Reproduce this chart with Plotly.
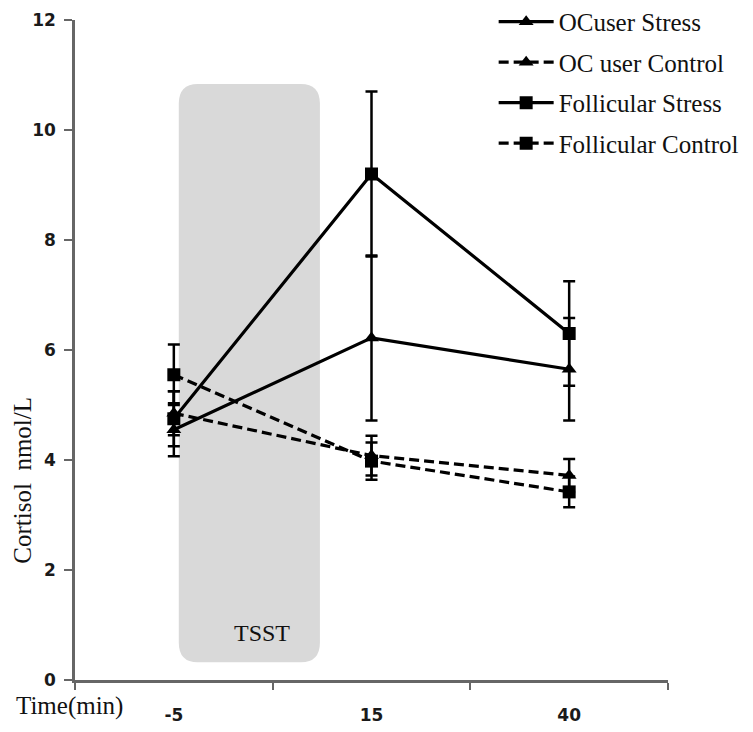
import plotly.graph_objects as go

times = ["-5", "15", "40"]
oc_stress = [4.55, 6.22, 5.65]
oc_stress_err = [0.48, 1.5, 0.93]
oc_control = [4.85, 4.08, 3.72]
oc_control_err = [0.4, 0.36, 0.3]
fol_stress = [4.75, 9.2, 6.3]
fol_stress_err = [0.5, 1.5, 0.95]
fol_control = [5.55, 3.98, 3.42]
fol_control_err = [0.55, 0.34, 0.28]

series = [
    ("OCuser Stress", oc_stress, oc_stress_err, "solid", "triangle-up"),
    ("OC user Control", oc_control, oc_control_err, "10px,5px", "triangle-up"),
    ("Follicular Stress", fol_stress, fol_stress_err, "solid", "square"),
    ("Follicular Control", fol_control, fol_control_err, "10px,5px", "square"),
]

serif = "Liberation Serif, Times New Roman, serif"

fig = go.Figure()
for i, (name, vals, errs, dash, sym) in enumerate(series):
    fig.add_trace(go.Scatter(
        x=times, y=vals, name=name, mode="lines+markers",
        line=dict(color="black", width=3.2, dash=dash),
        marker=dict(symbol=sym, size=13, color="black"),
        error_y=dict(type="data", array=errs, visible=True, color="black",
                     thickness=2.5, width=6),
        legendgroup=f"g{i}",
    ))

# rounded TSST box (paper coords)
x0, x1, y0, y1 = 0.175, 0.413, 0.027, 0.903
rx, ry = 0.032, 0.03
path = (f"M {x0+rx},{y0} L {x1-rx},{y0} Q {x1},{y0} {x1},{y0+ry} "
        f"L {x1},{y1-ry} Q {x1},{y1} {x1-rx},{y1} L {x0+rx},{y1} "
        f"Q {x0},{y1} {x0},{y1-ry} L {x0},{y0+ry} Q {x0},{y0} {x0+rx},{y0} Z")
fig.add_shape(type="path", path=path, xref="paper", yref="paper",
              fillcolor="#d9d9d9", line=dict(width=0), layer="below")

fig.add_annotation(text="TSST", x=0.315, y=0.071, xref="paper", yref="paper",
                   xanchor="center", yanchor="middle", showarrow=False,
                   font=dict(family=serif, size=24, color="#111"))
fig.add_annotation(text="Cortisol  nmol/L", x=-0.09, y=0.303, xref="paper", yref="paper",
                   xanchor="center", yanchor="middle", showarrow=False, textangle=-90,
                   font=dict(family=serif, size=25, color="#111"))
fig.add_annotation(text="Time(min)", x=-0.009, y=-0.039, xref="paper", yref="paper",
                   xanchor="center", yanchor="middle", showarrow=False,
                   font=dict(family=serif, size=25, color="#111"))

fig.update_xaxes(type="category", tickson="boundaries", range=[-0.5, 2.5],
                 showline=True, linecolor="#666666", linewidth=2.5,
                 ticks="outside", ticklen=7, tickwidth=2, tickcolor="#666666",
                 showgrid=False, zeroline=False, ticklabelstandoff=18,
                 tickfont=dict(family="DejaVu Sans", size=17, color="#1a1a1a", weight="bold"))
fig.update_yaxes(range=[0, 12], tickvals=[0, 2, 4, 6, 8, 10, 12], showline=True,
                 linecolor="#666666", linewidth=2.5, ticks="outside", ticklen=8,
                 tickwidth=2, tickcolor="#666666", showgrid=False, zeroline=False,
                 ticklabelstandoff=5,
                 tickfont=dict(family="DejaVu Sans", size=17, color="#1a1a1a", weight="bold"))

fig.update_layout(
    width=753, height=732,
    margin=dict(l=67, r=93, t=12, b=60, autoexpand=False),
    paper_bgcolor="white", plot_bgcolor="white",
    font=dict(family=serif),
    showlegend=True,
    legend=dict(x=0.706, y=1.032, xanchor="left", yanchor="top",
                font=dict(family=serif, size=25, color="#111"),
                itemwidth=55, tracegroupgap=5, traceorder="grouped",
                bgcolor="rgba(0,0,0,0)"),
)

fig.write_html("out.html")
